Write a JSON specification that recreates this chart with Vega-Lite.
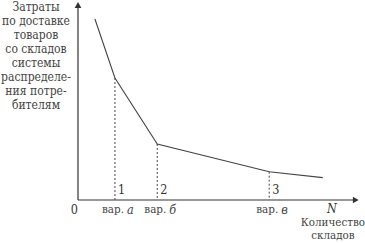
{
  "$schema": "https://vega.github.io/schema/vega-lite/v6.json",
  "width": 282,
  "height": 198,
  "autosize": "none",
  "padding": {"left": 78, "top": 2, "right": 5, "bottom": 43},
  "background": "white",
  "config": {"view": {"stroke": null}},
  "datasets": {
    "curve": [
      {"n": 6.0, "cost": 91.4},
      {"n": 13.1, "cost": 61.6},
      {"n": 28.1, "cost": 28.3},
      {"n": 67.8, "cost": 14.3},
      {"n": 86.8, "cost": 11.3}
    ],
    "variants": [
      {"n": 13.1, "cost": 61.6, "num": "1", "letter": "а"},
      {"n": 28.1, "cost": 28.3, "num": "2", "letter": "б"},
      {"n": 67.8, "cost": 14.3, "num": "3", "letter": "в"}
    ],
    "axes": [
      {"n": 0, "cost": 0, "n2": 98, "cost2": 0},
      {"n": 0, "cost": 0, "n2": 0, "cost2": 97}
    ]
  },
  "layer": [
    {
      "data": {"name": "axes"},
      "mark": {"type": "rule", "color": "#333", "strokeWidth": 1.2},
      "encoding": {
        "x": {"field": "n", "type": "quantitative", "scale": {"domain": [0, 100]}, "axis": null},
        "y": {"field": "cost", "type": "quantitative", "scale": {"domain": [0, 100]}, "axis": null},
        "x2": {"field": "n2"},
        "y2": {"field": "cost2"}
      }
    },
    {
      "data": {"values": [{"n": 98.5, "cost": 0}]},
      "mark": {"type": "point", "shape": "triangle-right", "filled": true, "color": "#333", "opacity": 1, "size": 45},
      "encoding": {
        "x": {"field": "n", "type": "quantitative"},
        "y": {"field": "cost", "type": "quantitative"}
      }
    },
    {
      "data": {"values": [{"n": 0, "cost": 98.5}]},
      "mark": {"type": "point", "shape": "triangle-up", "filled": true, "color": "#333", "opacity": 1, "size": 45},
      "encoding": {
        "x": {"field": "n", "type": "quantitative"},
        "y": {"field": "cost", "type": "quantitative"}
      }
    },
    {
      "data": {"name": "curve"},
      "mark": {"type": "line", "color": "#444", "strokeWidth": 1.1},
      "encoding": {
        "x": {"field": "n", "type": "quantitative"},
        "y": {"field": "cost", "type": "quantitative"}
      }
    },
    {
      "data": {"name": "variants"},
      "mark": {"type": "rule", "color": "#444", "strokeWidth": 1, "strokeDash": [2, 2]},
      "encoding": {
        "x": {"field": "n", "type": "quantitative"},
        "y": {"field": "cost", "type": "quantitative"},
        "y2": {"datum": 0}
      }
    },
    {
      "data": {"name": "variants"},
      "mark": {"type": "text", "font": "'DejaVu Serif Condensed', 'DejaVu Serif', serif", "fontSize": 12.5, "color": "#333", "align": "left", "dx": 3, "baseline": "middle"},
      "encoding": {
        "x": {"field": "n", "type": "quantitative"},
        "y": {"datum": 5},
        "text": {"field": "num"}
      }
    },
    {
      "data": {"name": "variants"},
      "mark": {"type": "text", "font": "'DejaVu Serif Condensed', 'DejaVu Serif', serif", "fontSize": 11.5, "color": "#444", "align": "right", "dx": 9, "baseline": "middle", "text": "вар."},
      "encoding": {
        "x": {"field": "n", "type": "quantitative"},
        "y": {"datum": -5}
      }
    },
    {
      "data": {"name": "variants"},
      "mark": {"type": "text", "font": "'DejaVu Serif Condensed', 'DejaVu Serif', serif", "fontSize": 12.5, "color": "#444", "align": "left", "dx": 12, "baseline": "middle", "fontStyle": "italic"},
      "encoding": {
        "x": {"field": "n", "type": "quantitative"},
        "y": {"datum": -5},
        "text": {"field": "letter"}
      }
    },
    {
      "data": {"values": [{"n": -1.3, "cost": -5, "label": "0"}]},
      "mark": {"type": "text", "font": "'DejaVu Serif Condensed', 'DejaVu Serif', serif", "fontSize": 12.5, "color": "#333", "align": "center", "baseline": "middle"},
      "encoding": {
        "x": {"field": "n", "type": "quantitative"},
        "y": {"field": "cost", "type": "quantitative"},
        "text": {"field": "label"}
      }
    },
    {
      "data": {"values": [{"n": 90, "cost": -4.7, "label": "N"}]},
      "mark": {"type": "text", "font": "'DejaVu Serif Condensed', 'DejaVu Serif', serif", "fontSize": 12.5, "color": "#333", "align": "center", "baseline": "middle", "fontStyle": "italic"},
      "encoding": {
        "x": {"field": "n", "type": "quantitative"},
        "y": {"field": "cost", "type": "quantitative"},
        "text": {"field": "label"}
      }
    },
    {
      "data": {"values": [{"n": 90.4, "cost": -8.8, "label": "Количество\nскладов"}]},
      "mark": {"type": "text", "font": "'DejaVu Serif Condensed', 'DejaVu Serif', serif", "fontSize": 11.5, "color": "#444", "align": "center", "baseline": "top", "lineBreak": "\n", "lineHeight": 13},
      "encoding": {
        "x": {"field": "n", "type": "quantitative"},
        "y": {"field": "cost", "type": "quantitative"},
        "text": {"field": "label"}
      }
    },
    {
      "data": {"values": [{"n": -14.9, "cost": 100, "label": "Затраты\nпо доставке\nтоваров\nсо складов\nсистемы\nраспределе-\nния потре-\nбителям"}]},
      "mark": {"type": "text", "font": "'DejaVu Serif Condensed', 'DejaVu Serif', serif", "fontSize": 12, "color": "#444", "align": "center", "baseline": "top", "lineBreak": "\n", "lineHeight": 14},
      "encoding": {
        "x": {"field": "n", "type": "quantitative"},
        "y": {"field": "cost", "type": "quantitative"},
        "text": {"field": "label"}
      }
    }
  ]
}
